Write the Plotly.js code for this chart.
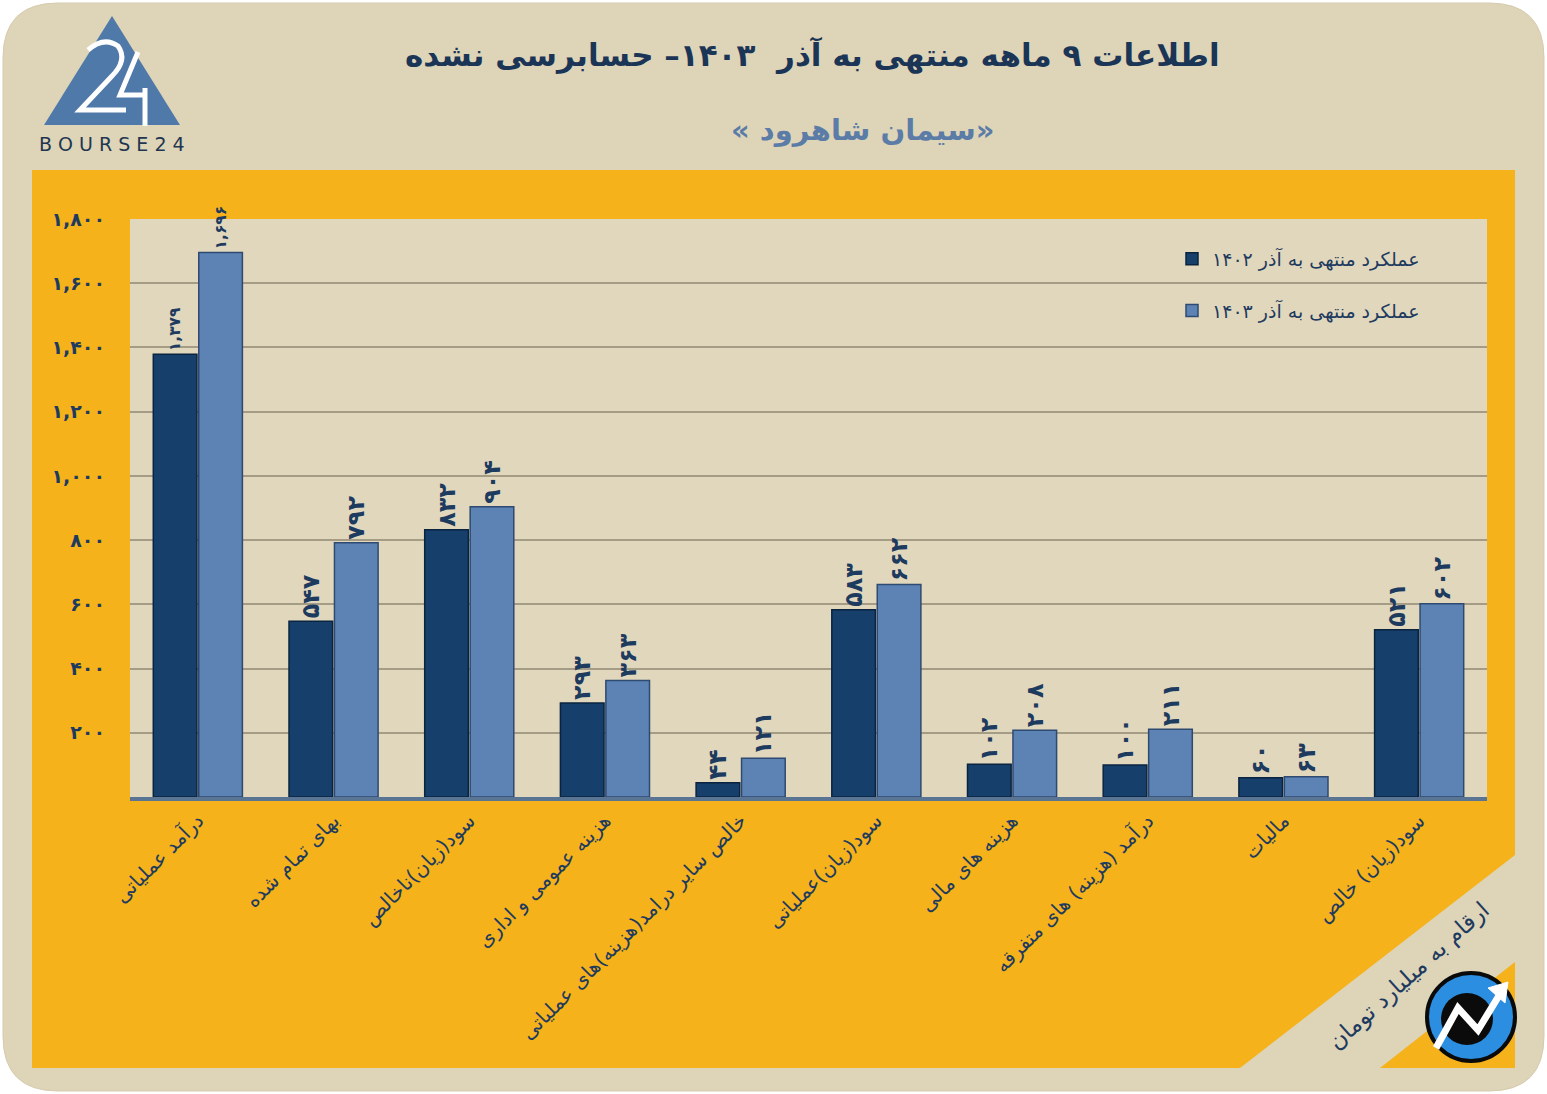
<!DOCTYPE html>
<html>
<head>
<meta charset="utf-8">
<script src="https://cdn.plot.ly/plotly-3.0.1.min.js"></script>
<style>
  html, body { margin: 0; padding: 0; background: #ffffff; }
  #chart { width: 1547px; height: 1094px; }
</style>
</head>
<body>
<div id="chart"></div>
<script>
// data (billion toman)
const categories = [
  'درآمد عملیاتی',
  'بهای تمام شده',
  'سود(زیان)ناخالص',
  'هزینه عمومی و اداری',
  'خالص سایر درامد(هزینه)های عملیاتی',
  'سود(زیان)عملیاتی',
  'هزینه های مالی',
  'درآمد (هزینه) های متفرقه',
  'مالیات',
  'سود(زیان) خالص'
];
const values1402 = [1379, 547, 832, 293, 44, 583, 102, 100, 60, 521];
const values1403 = [1696, 792, 904, 363, 121, 662, 208, 211, 63, 602];
const seriesNames = ['عملکرد منتهی به آذر ۱۴۰۲', 'عملکرد منتهی به آذر ۱۴۰۳'];
const yTicks = [200, 400, 600, 800, 1000, 1200, 1400, 1600, 1800];

const navy = '#1d3a5f';
const faDigits = '۰۱۲۳۴۵۶۷۸۹';
function toFa(n) {
  let s = String(n).replace(/\B(?=(\d{3})+(?!\d))/g, ',');
  return s.replace(/\d/g, d => faDigits[d]);
}
// force right-to-left paragraph for persian strings
const rtl = s => '\u202B' + s + '\u202C';

// page geometry in pixels, converted to paper coords for shapes
const W = 1547, H = 1094;
const M = {l: 130, r: 60, t: 219, b: 297};
const pw = W - M.l - M.r, ph = H - M.t - M.b;
const X = px => (px - M.l) / pw;
const Y = py => (H - M.b - py) / ph;
function path(pts, close) {
  let d = pts.map((p, i) => (i ? 'L' : 'M') + X(p[0]) + ',' + Y(p[1])).join(' ');
  return close === false ? d : d + ' Z';
}
function roundRect(x0, y0, x1, y1, r) {
  // rounded rectangle approximated with quadratic corners
  return 'M' + X(x0 + r) + ',' + Y(y0) +
    ' L' + X(x1 - r) + ',' + Y(y0) + ' Q' + X(x1) + ',' + Y(y0) + ' ' + X(x1) + ',' + Y(y0 + r) +
    ' L' + X(x1) + ',' + Y(y1 - r) + ' Q' + X(x1) + ',' + Y(y1) + ' ' + X(x1 - r) + ',' + Y(y1) +
    ' L' + X(x0 + r) + ',' + Y(y1) + ' Q' + X(x0) + ',' + Y(y1) + ' ' + X(x0) + ',' + Y(y1 - r) +
    ' L' + X(x0) + ',' + Y(y0 + r) + ' Q' + X(x0) + ',' + Y(y0) + ' ' + X(x0 + r) + ',' + Y(y0) + ' Z';
}
function pshape(d, fill, line, lw, layer) {
  return {type: 'path', xref: 'paper', yref: 'paper', path: d, fillcolor: fill,
    line: {color: line || 'rgba(0,0,0,0)', width: lw || 0}, layer: layer || 'below'};
}
function circle(cx, cy, r, fill, line, lw) {
  return {type: 'circle', xref: 'paper', yref: 'paper',
    x0: X(cx - r), x1: X(cx + r), y0: Y(cy + r), y1: Y(cy - r),
    fillcolor: fill, line: {color: line || 'rgba(0,0,0,0)', width: lw || 0}, layer: 'above'};
}

const shapes = [
  // beige card
  pshape(roundRect(3, 3, 1544, 1091, 55), '#ded4b8', '#d6cbad', 1),
  // orange panel with cut corner
  pshape(path([[32, 170], [1515, 170], [1515, 855], [1240, 1068], [32, 1068]]), '#f5b21a'),
  pshape(path([[1515, 962], [1515, 1068], [1380, 1068]]), '#f5b21a'),
  // plot area
  pshape(path([[130, 219], [1487, 219], [1487, 797], [130, 797]]), '#e1d7bc'),
  // logo triangle with the 2 and 4
  pshape(path([[112, 16], [180, 125], [44, 125]]), '#4f79a8', null, 0, 'above'),
  pshape('M' + X(88) + ',' + Y(50) + ' Q' + X(104) + ',' + Y(36) + ' ' + X(118) + ',' + Y(46) +
    ' Q' + X(128) + ',' + Y(60) + ' ' + X(112) + ',' + Y(76) + ' L' + X(80) + ',' + Y(110) +
    ' L' + X(126) + ',' + Y(110), 'rgba(0,0,0,0)', '#ffffff', 5, 'above'),
  pshape(path([[138, 52], [120, 95], [145, 95]], false), 'rgba(0,0,0,0)', '#ffffff', 5, 'above'),
  pshape(path([[145, 88], [145, 126]], false), 'rgba(0,0,0,0)', '#ffffff', 5, 'above'),
  // round logo bottom right
  circle(1471, 1017, 44, '#2c8ee0', '#0a0a0a', 4),
  circle(1467, 1019, 26, '#0b0b0b', null, 0),
  pshape(path([[1436, 1048], [1458, 1008], [1478, 1030], [1500, 994]], false), 'rgba(0,0,0,0)', '#ffffff', 7, 'above'),
  pshape(path([[1488, 988], [1508, 982], [1505, 1003]]), '#ffffff', '#ffffff', 1, 'above')
];

const annotations = [
  {text: '<b>' + rtl('اطلاعات ۹ ماهه منتهی به آذر  ۱۴۰۳– حسابرسی نشده') + '</b>', x: X(812), y: Y(55),
    font: {size: 31, color: '#1b3556'}},
  {text: '<b>' + rtl('«سیمان شاهرود »') + '</b>', x: X(863), y: Y(130), font: {size: 29, color: '#5b7ca6'}},
  {text: 'B O U R S E 2 4', x: X(112), y: Y(144), font: {size: 19, color: '#1e3650', family: 'DejaVu Sans'}},
  {text: rtl('ارقام به میلیارد تومان'), x: X(1408), y: Y(976), textangle: -42,
    font: {size: 23, color: navy}}
].map(a => Object.assign({xref: 'paper', yref: 'paper', showarrow: false,
  xanchor: 'center', yanchor: 'middle'}, a));

const traces = [
  {
    type: 'bar', x: categories, y: values1402, name: rtl(seriesNames[0]), legendgroup: 'a',
    marker: {color: '#163f6b', line: {color: '#0a2440', width: 1.5}},
    text: values1402.map(toFa), textposition: 'outside', textangle: -90,
    textfont: {size: 25, color: navy, family: 'DejaVu Sans', weight: 'bold'},
    cliponaxis: false, hoverinfo: 'x+y'
  },
  {
    type: 'bar', x: categories, y: values1403, name: rtl(seriesNames[1]), legendgroup: 'b',
    marker: {color: '#5d83b4', line: {color: '#2f4a70', width: 1.5}},
    text: values1403.map(toFa), textposition: 'outside', textangle: -90,
    textfont: {size: 25, color: navy, family: 'DejaVu Sans', weight: 'bold'},
    cliponaxis: false, hoverinfo: 'x+y'
  }
];

const layout = {
  width: W, height: H,
  margin: M,
  paper_bgcolor: '#ffffff',
  plot_bgcolor: 'rgba(0,0,0,0)',
  font: {family: 'DejaVu Sans', color: navy},
  barmode: 'group',
  bargap: 0.33,
  bargroupgap: 0.04,
  showlegend: true,
  legend: {
    x: X(1172), y: Y(240), xanchor: 'left', yanchor: 'top',
    bgcolor: 'rgba(0,0,0,0)', font: {size: 19, color: navy},
    traceorder: 'grouped', tracegroupgap: 24
  },
  xaxis: {
    type: 'category', tickangle: -45, tickfont: {size: 20, color: navy},
    tickvals: categories, ticktext: categories.map(rtl),
    showgrid: false, showline: true, linecolor: '#5a7493', linewidth: 4,
    ticks: '', fixedrange: true
  },
  yaxis: {
    range: [0, 1800], tickvals: yTicks, ticktext: yTicks.map(toFa),
    tickfont: {size: 19, color: navy, weight: 'bold'},
    showgrid: true, gridcolor: '#a59c86', gridwidth: 2,
    zeroline: false, showline: false, ticklabelstandoff: 24, fixedrange: true
  },
  shapes: shapes,
  annotations: annotations
};

Plotly.newPlot('chart', traces, layout, {displayModeBar: false, staticPlot: true});
</script>
</body>
</html>
